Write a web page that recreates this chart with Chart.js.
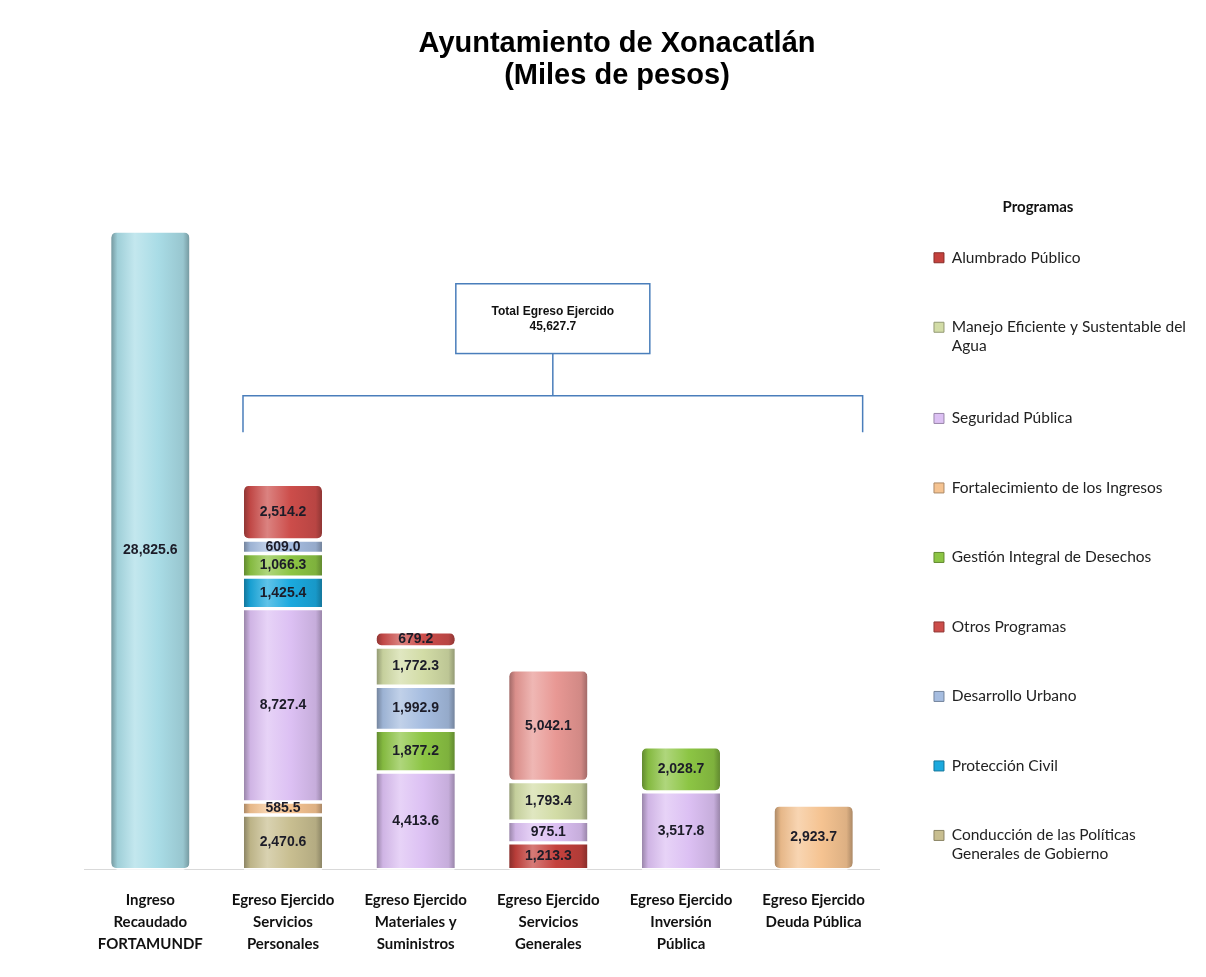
<!DOCTYPE html>
<html lang="es">
<head>
<meta charset="utf-8">
<title>Ayuntamiento de Xonacatlán</title>
<script src="https://cdn.jsdelivr.net/npm/chart.js@4.4.1/dist/chart.umd.min.js"></script>
<style>
  html, body { margin: 0; padding: 0; background: #fff; }
  #wrap { width: 1206px; height: 977px; position: relative; }
</style>
</head>
<body>
<div id="wrap"><canvas id="chart"></canvas></div>
<script>
// x axis categories, one entry per label line
const categories = [
  ['Ingreso', 'Recaudado', 'FORTAMUNDF'],
  ['Egreso Ejercido', 'Servicios', 'Personales'],
  ['Egreso Ejercido', 'Materiales y', 'Suministros'],
  ['Egreso Ejercido', 'Servicios', 'Generales'],
  ['Egreso Ejercido', 'Inversión', 'Pública'],
  ['Egreso Ejercido', 'Deuda Pública']
];

// income bar (not listed in the legend)
const ingreso = [28825.6, null, null, null, null, null];

// programs, in stacking order (bottom -> top)
const alumbrado       = [null, null, null, 1213.3, null, null];
const conduccion      = [null, 2470.6, null, null, null, null];
const fortalecimiento = [null, 585.5, null, null, null, 2923.7];
const seguridad       = [null, 8727.4, 4413.6, 975.1, 3517.8, null];
const proteccion      = [null, 1425.4, null, null, null, null];
const desechos        = [null, 1066.3, 1877.2, null, 2028.7, null];
const desarrollo      = [null, 609.0, 1992.9, null, null, null];
const agua            = [null, null, 1772.3, 1793.4, null, null];
const otros           = [null, 2514.2, 679.2, 5042.1, null, null];

// order the programs appear in the legend
const legendOrder = [
  'Alumbrado Público',
  'Manejo Eficiente y Sustentable del Agua',
  'Seguridad Pública',
  'Fortalecimiento de los Ingresos',
  'Gestión Integral de Desechos',
  'Otros Programas',
  'Desarrollo Urbano',
  'Protección Civil',
  'Conducción de las Políticas Generales de Gobierno'
];

const BAR = 78;

const series = [
  { label: 'Ingreso Recaudado FORTAMUNDF', data: ingreso, color: '#a9dce6', inLegend: false },
  { label: 'Alumbrado Público', data: alumbrado, color: '#c4413d' },
  { label: 'Conducción de las Políticas Generales de Gobierno', lines: ['Conducción de las Políticas', 'Generales de Gobierno'], data: conduccion, color: '#c8be90' },
  { label: 'Fortalecimiento de los Ingresos', data: fortalecimiento, color: '#f5c391' },
  { label: 'Seguridad Pública', data: seguridad, color: '#dcc0f3' },
  { label: 'Protección Civil', data: proteccion, color: '#1ba9de' },
  { label: 'Gestión Integral de Desechos', data: desechos, color: '#8cc544' },
  { label: 'Desarrollo Urbano', data: desarrollo, color: '#a6bde0' },
  { label: 'Manejo Eficiente y Sustentable del Agua', lines: ['Manejo Eficiente y Sustentable del', 'Agua'], data: agua, color: '#d2dca6' },
  { label: 'Otros Programas', data: otros, color: '#cc4d4a', perBar: [null, '#cc4d4a', '#cc4d4a', '#e89894', null, null] }
];

function mix(hex, to, t) {
  const a = parseInt(hex.slice(1), 16), b = parseInt(to.slice(1), 16);
  const ch = s => Math.round(((a >> s) & 255) * (1 - t) + ((b >> s) & 255) * t);
  return `rgb(${ch(16)},${ch(8)},${ch(0)})`;
}

// horizontal shading so each segment reads as a cylinder
function cylinder(ctx, s) {
  const base = (s.perBar && s.perBar[ctx.dataIndex]) || s.color;
  const chart = ctx.chart;
  const x = chart.scales && chart.scales.x;
  if (ctx.dataIndex === undefined || !x) return base;
  const cx = x.getPixelForValue(ctx.dataIndex);
  const g = chart.ctx.createLinearGradient(cx - BAR / 2, 0, cx + BAR / 2, 0);
  g.addColorStop(0, mix(base, '#000000', 0.3));
  g.addColorStop(0.08, mix(base, '#000000', 0.06));
  g.addColorStop(0.3, mix(base, '#ffffff', 0.3));
  g.addColorStop(0.6, base);
  g.addColorStop(0.92, mix(base, '#000000', 0.1));
  g.addColorStop(1, mix(base, '#000000', 0.3));
  return g;
}

const fmt = v => v.toLocaleString('en-US', { minimumFractionDigits: 1, maximumFractionDigits: 1 });

const totalEgreso = series.filter(s => s.inLegend !== false)
  .reduce((t, s) => t + s.data.reduce((a, v) => a + (v || 0), 0), 0);

// value printed in the middle of every segment
const segmentLabels = {
  id: 'segmentLabels',
  afterDatasetsDraw(chart) {
    const c = chart.ctx;
    c.save();
    c.font = 'bold 14px "Liberation Sans", Arial, sans-serif';
    c.fillStyle = '#1c1c28';
    c.textAlign = 'center';
    c.textBaseline = 'middle';
    chart.data.datasets.forEach((ds, i) => {
      const meta = chart.getDatasetMeta(i);
      if (meta.hidden) return;
      meta.data.forEach((bar, j) => {
        const v = ds.data[j];
        if (v == null) return;
        c.fillText(fmt(v), bar.x, (bar.y + bar.base) / 2);
      });
    });
    c.restore();
  }
};

// "Total Egreso Ejercido" box with its bracket over the expense bars
const totalBracket = {
  id: 'totalBracket',
  afterDraw(chart) {
    const { ctx, scales: { x, y } } = chart;
    const left = x.getPixelForValue(1) - BAR / 2 - 1;
    const right = x.getPixelForValue(categories.length - 1) + BAR / 2 + 10;
    const mid = (left + right) / 2;
    const yLine = y.getPixelForValue(21400);
    const yTick = y.getPixelForValue(19750);
    const boxTop = y.getPixelForValue(26450);
    const boxBottom = y.getPixelForValue(23300);
    const boxW = 194;

    ctx.save();
    ctx.strokeStyle = '#4a7ebb';
    ctx.lineWidth = 1.5;
    ctx.beginPath();
    ctx.moveTo(left, yTick);
    ctx.lineTo(left, yLine);
    ctx.lineTo(right, yLine);
    ctx.lineTo(right, yTick);
    ctx.moveTo(mid, yLine);
    ctx.lineTo(mid, boxBottom);
    ctx.stroke();
    ctx.fillStyle = '#fff';
    ctx.fillRect(mid - boxW / 2, boxTop, boxW, boxBottom - boxTop);
    ctx.strokeRect(mid - boxW / 2, boxTop, boxW, boxBottom - boxTop);

    ctx.fillStyle = '#111';
    ctx.font = 'bold 12px "Liberation Sans Narrow", "Liberation Sans", Arial, sans-serif';
    ctx.textAlign = 'center';
    ctx.textBaseline = 'middle';
    const cy = (boxTop + boxBottom) / 2;
    ctx.fillText('Total Egreso Ejercido', mid, cy - 7);
    ctx.fillText(fmt(totalEgreso), mid, cy + 8);
    ctx.restore();
  }
};

new Chart(document.getElementById('chart'), {
  type: 'bar',
  data: {
    labels: categories,
    datasets: series.map(s => ({
      label: s.label,
      data: s.data,
      backgroundColor: ctx => cylinder(ctx, s),
      borderColor: '#ffffff',
      borderWidth: { top: 2, bottom: 2, left: 0, right: 0 },
      borderSkipped: false,
      borderRadius: 7,
      barThickness: BAR
    }))
  },
  options: {
    responsive: true,
    maintainAspectRatio: false,
    animation: false,
    layout: { padding: { left: 38, right: 10, top: 0, bottom: 10 } },
    scales: {
      x: {
        stacked: true,
        grid: { display: false },
        border: { display: true, color: '#d9d9d9', width: 1 },
        ticks: {
          color: '#111',
          padding: 12,
          autoSkip: false,
          maxRotation: 0,
          font: { family: 'Lato', size: 15, weight: 'bold', lineHeight: 1.45 }
        },
        // keep an empty margin left of the first bar without a visible y axis
        afterFit(scale) { scale.paddingLeft = 84; }
      },
      y: {
        display: false,
        stacked: true,
        min: 0,
        max: 32000
      }
    },
    plugins: {
      title: {
        display: true,
        text: ['Ayuntamiento de Xonacatlán', '(Miles de pesos)'],
        color: '#000',
        font: { family: '"Liberation Sans", Arial, sans-serif', size: 29, weight: 'bold', lineHeight: 1.1 },
        padding: { top: 28, bottom: 69 }
      },
      legend: {
        position: 'right',
        align: 'start',
        title: {
          display: true,
          text: 'Programas',
          color: '#111',
          font: { family: 'Lato', size: 15, weight: 'bold' },
          padding: { top: 200, bottom: -22 }
        },
        labels: {
          boxWidth: 10,
          boxHeight: 10,
          padding: 54,
          color: '#222',
          font: { family: 'Lato', size: 15.5 },
          generateLabels(chart) {
            return legendOrder.map(name => {
              const i = series.findIndex(s => s.label === name);
              const s = series[i];
              return {
                text: s.lines || s.label,
                fillStyle: s.color,
                strokeStyle: mix(s.color, '#000000', 0.3),
                lineWidth: 1,
                fontColor: '#222',
                hidden: !chart.isDatasetVisible(i),
                datasetIndex: i
              };
            });
          }
        }
      },
      tooltip: {
        callbacks: { label: item => `${item.dataset.label}: ${fmt(item.raw)}` }
      }
    }
  },
  plugins: [segmentLabels, totalBracket]
});
</script>
</body>
</html>
